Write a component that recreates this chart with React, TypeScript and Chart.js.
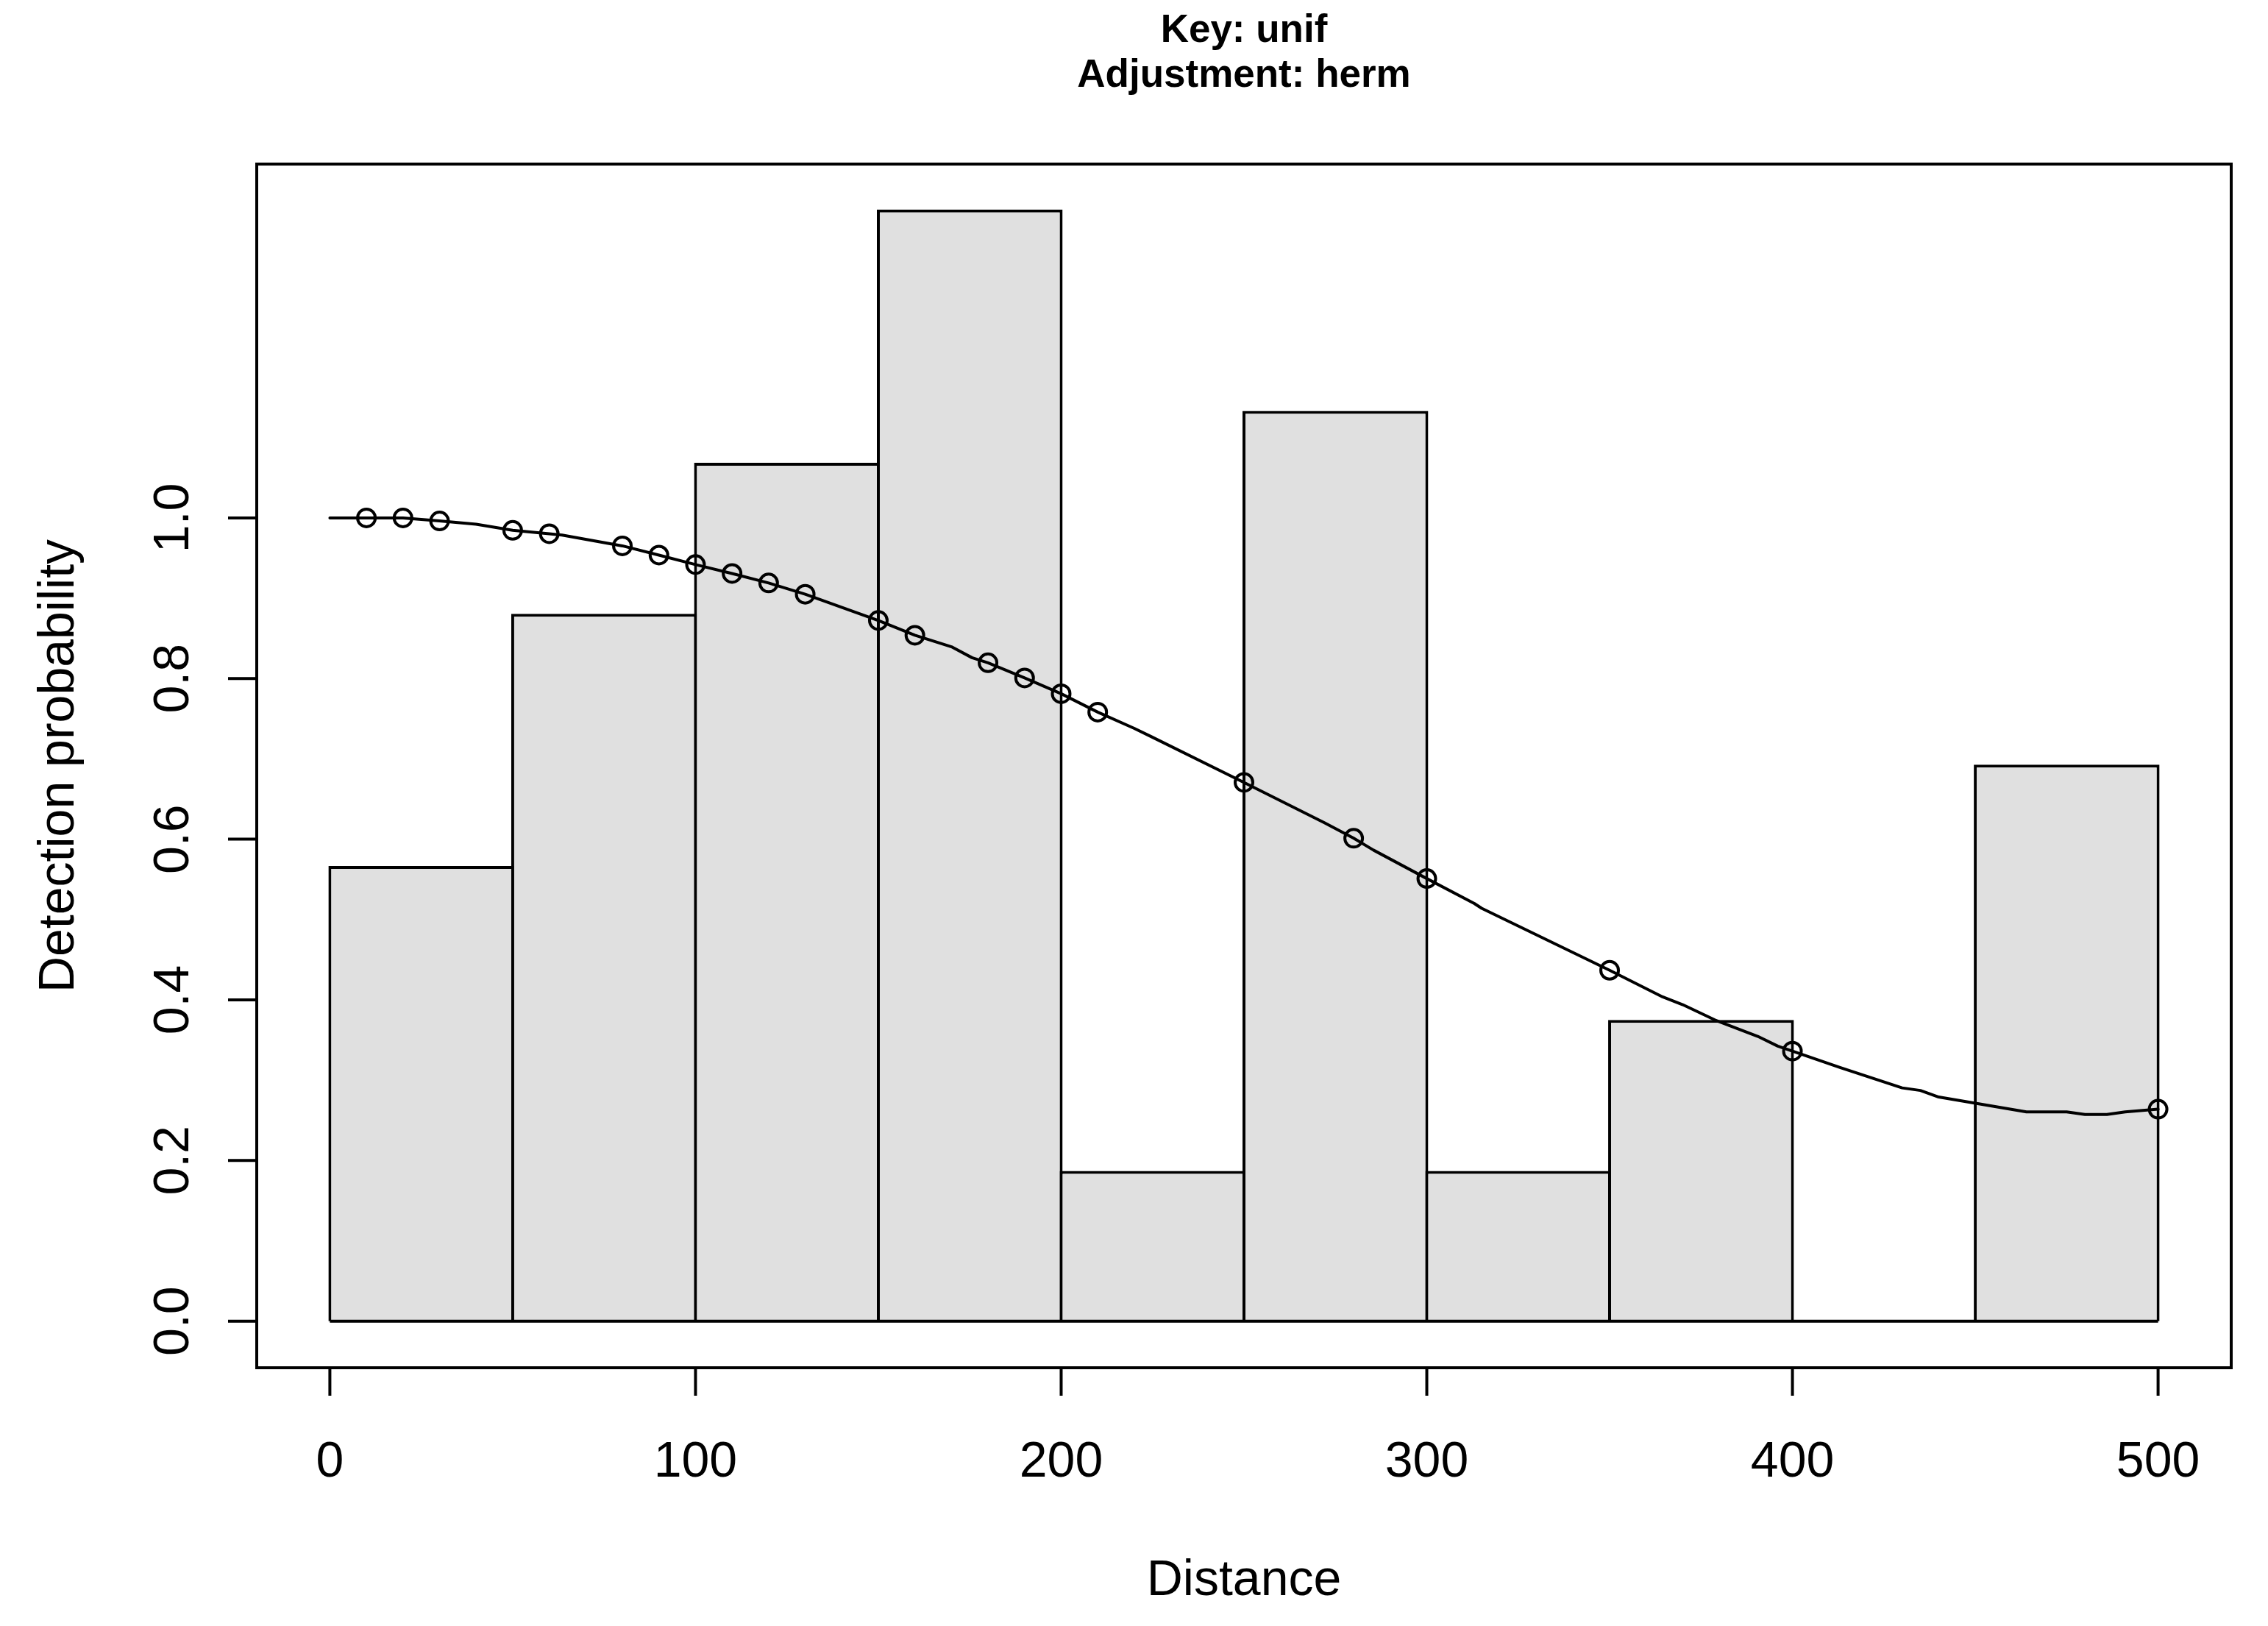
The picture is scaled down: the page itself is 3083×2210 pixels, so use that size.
import React, { useEffect, useRef } from 'react';
import { Chart, registerables } from 'chart.js';

Chart.register(...registerables);

// ---- text ----
const titleLines = ['Key: unif', 'Adjustment: herm'];
const xAxisTitle = 'Distance';
const yAxisTitle = 'Detection probability';

// ---- histogram (scaled counts) ----
const binStarts = [0, 50, 100, 150, 200, 250, 300, 350, 400, 450];
const binEnds = [50, 100, 150, 200, 250, 300, 350, 400, 450, 500];
const binHeights = [0.5666, 0.8806, 1.0687, 1.3839, 0.187, 1.1333, 0.187, 0.3751, 0, 0.6928];

// ---- fitted detection function line ----
const curveX = [0, 10, 20, 30, 40, 50, 60, 63.5, 80, 90, 100, 110, 120, 130, 150, 160, 170, 175.6, 180, 190, 200, 210, 220, 224.5, 250, 272, 280, 285.4, 300, 313, 315, 350, 364.5, 370, 378.8, 390.5, 396, 400, 413, 430, 435, 440, 464, 475, 480, 486, 491, 500];
const curveY = [1.0, 1.0, 1.0, 0.9962, 0.9922, 0.9845, 0.9803, 0.9787, 0.9652, 0.9537, 0.9419, 0.9308, 0.919, 0.905, 0.8723, 0.8539, 0.8396, 0.826, 0.8196, 0.8008, 0.7811, 0.7582, 0.738, 0.728, 0.6707, 0.6205, 0.6012, 0.5865, 0.551, 0.52, 0.514, 0.4368, 0.4037, 0.394, 0.375, 0.3546, 0.3424, 0.3362, 0.3158, 0.2904, 0.2872, 0.279, 0.2606, 0.2606, 0.2574, 0.2574, 0.2606, 0.2639];

// ---- observed distances (circles) ----
const obsX = [10, 20, 30, 50, 60, 80, 90, 100, 110, 120, 130, 150, 160, 180, 190, 200, 210, 250, 280, 300, 350, 400, 500];
const obsY = [1.0, 1.0, 0.9962, 0.9845, 0.9803, 0.9652, 0.9537, 0.9419, 0.9308, 0.919, 0.905, 0.8723, 0.8539, 0.8196, 0.8008, 0.7811, 0.7582, 0.6707, 0.6012, 0.551, 0.4368, 0.3362, 0.2639];

// ---- axes ----
const xTicks = [0, 100, 200, 300, 400, 500];
const xTickLabels = ['0', '100', '200', '300', '400', '500'];
const yTicks = [0, 0.2, 0.4, 0.6, 0.8, 1.0];
const yTickLabels = ['0.0', '0.2', '0.4', '0.6', '0.8', '1.0'];
const xMin = -20;
const xMax = 520;
const xStep = 100;
const yMin = -0.058;
const yMax = 1.4405;

const FONT = '"Liberation Sans", Arial, Helvetica, sans-serif';

const rAxesPlugin = {
  id: 'rAxes',
  beforeDraw(chart: any) {
    const { ctx, width, height } = chart;
    ctx.save();
    ctx.fillStyle = '#ffffff';
    ctx.fillRect(0, 0, width, height);
    ctx.restore();
  },
  afterDraw(chart: any) {
    const { ctx, chartArea: a, scales } = chart;
    const xs = scales.x;
    const ys = scales.y;
    ctx.save();
    ctx.strokeStyle = '#000000';
    ctx.fillStyle = '#000000';
    ctx.lineWidth = 4;
    ctx.lineCap = 'butt';
    ctx.lineJoin = 'miter';
    // box
    ctx.strokeRect(a.left, a.top, a.right - a.left, a.bottom - a.top);
    // ticks
    ctx.beginPath();
    xTicks.forEach((v) => {
      const px = xs.getPixelForValue(v);
      ctx.moveTo(px, a.bottom);
      ctx.lineTo(px, a.bottom + 38);
    });
    yTicks.forEach((v) => {
      const py = ys.getPixelForValue(v);
      ctx.moveTo(a.left, py);
      ctx.lineTo(a.left - 39, py);
    });
    ctx.stroke();

    // x tick labels
    ctx.font = `68px ${FONT}`;
    ctx.textAlign = 'center';
    ctx.textBaseline = 'alphabetic';
    xTicks.forEach((v, i) => {
      ctx.fillText(xTickLabels[i], xs.getPixelForValue(v), a.bottom + 148);
    });
    // y tick labels (rotated)
    yTicks.forEach((v, i) => {
      ctx.save();
      ctx.translate(a.left - 93, ys.getPixelForValue(v));
      ctx.rotate(-Math.PI / 2);
      ctx.fillText(yTickLabels[i], 0, 0);
      ctx.restore();
    });
    // axis titles
    const cx = (a.left + a.right) / 2;
    const cy = (a.top + a.bottom) / 2;
    ctx.fillText(xAxisTitle, cx, a.bottom + 309);
    ctx.save();
    ctx.translate(a.left - 249, cy);
    ctx.rotate(-Math.PI / 2);
    ctx.fillText(yAxisTitle, 0, 0);
    ctx.restore();
    // main title
    ctx.font = `bold 53px ${FONT}`;
    ctx.fillText(titleLines[0], cx, a.top - 166);
    ctx.fillText(titleLines[1], cx, a.top - 105);
    ctx.restore();
  },
};

export default function App() {
  const ref = useRef<HTMLCanvasElement>(null);

  useEffect(() => {
    const canvas = ref.current;
    if (!canvas) return;

    const barData = binStarts.map((s, i) => ({ x: (s + binEnds[i]) / 2, y: binHeights[i] }));
    const curveData = curveX.map((x, i) => ({ x, y: curveY[i] }));
    const obsData = obsX.map((x, i) => ({ x, y: obsY[i] }));
    const baseData = [
      { x: binStarts[0], y: 0 },
      { x: binEnds[binEnds.length - 1], y: 0 },
    ];

    const chart = new Chart(canvas, {
      type: 'bar',
      data: {
        datasets: [
          {
            type: 'scatter',
            data: obsData,
            showLine: false,
            pointRadius: 12,
            pointBorderWidth: 4,
            pointBorderColor: '#000000',
            pointBackgroundColor: 'rgba(0,0,0,0)',
            order: 0,
          } as any,
          {
            type: 'line',
            data: curveData,
            borderColor: '#000000',
            borderWidth: 4,
            pointRadius: 0,
            tension: 0,
            fill: false,
            borderCapStyle: 'round',
            borderJoinStyle: 'round',
            order: 1,
          } as any,
          {
            type: 'line',
            data: baseData,
            borderColor: '#000000',
            borderWidth: 4,
            pointRadius: 0,
            tension: 0,
            fill: false,
            order: 2,
          } as any,
          {
            type: 'bar',
            data: barData,
            backgroundColor: '#e0e0e0',
            borderColor: '#000000',
            borderWidth: 4,
            borderSkipped: 'bottom',
            barPercentage: 1.016,
            categoryPercentage: 1,
            order: 3,
          } as any,
        ],
      },
      options: {
        animation: false,
        responsive: false,
        maintainAspectRatio: false,
        devicePixelRatio: 1,
        events: [],
        layout: { padding: { left: 349, right: 50, top: 223, bottom: 351 } },
        plugins: {
          legend: { display: false },
          title: { display: false },
          tooltip: { enabled: false },
        },
        scales: {
          x: {
            type: 'linear',
            min: xMin,
            max: xMax,
            offset: false,
            display: false,
            ticks: { stepSize: xStep, includeBounds: false },
          },
          y: { type: 'linear', min: yMin, max: yMax, display: false },
        },
      },
      plugins: [rAxesPlugin],
    } as any);

    return () => chart.destroy();
  }, []);

  return (
    <canvas
      ref={ref}
      width={3083}
      height={2210}
      style={{ position: 'fixed', left: 0, top: 0, width: '3083px', height: '2210px', display: 'block' }}
    />
  );
}
